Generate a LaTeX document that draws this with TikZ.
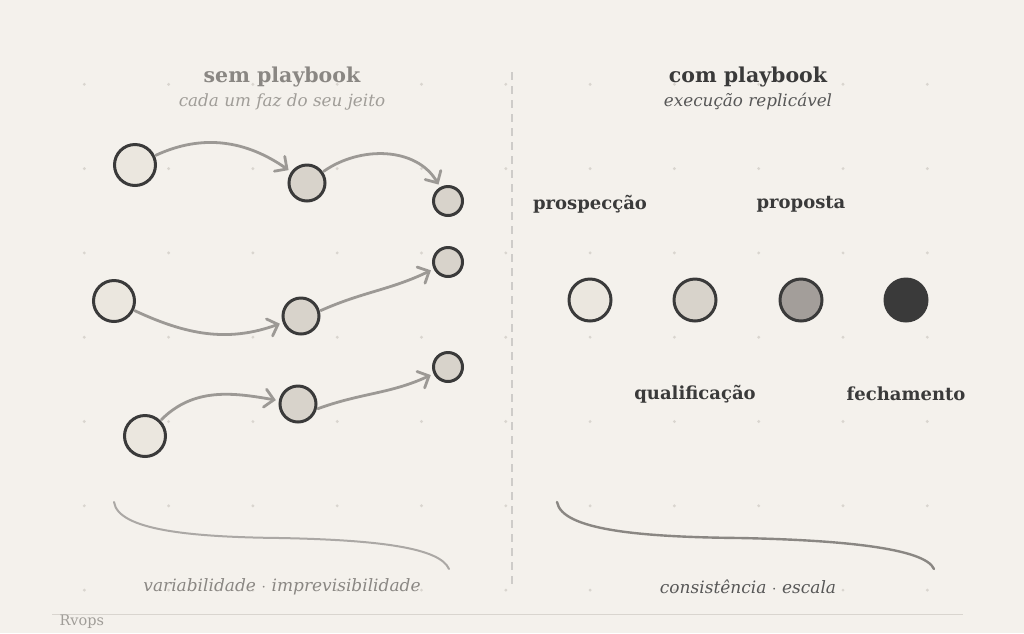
\documentclass[tikz,border=0pt]{standalone}
\usepackage{fontspec}
\setmainfont{DejaVu Serif}
\usetikzlibrary{arrows.meta}
\definecolor{paper}{HTML}{F4F1EC}
\definecolor{griddot}{HTML}{D9D5CF}
\definecolor{ink}{HTML}{3A3A3A}
\definecolor{flowgray}{HTML}{9C9995}
\definecolor{stepa}{HTML}{EBE7DF}
\definecolor{stepb}{HTML}{D8D3CB}
\definecolor{stepc}{HTML}{A39E9A}
\definecolor{headgray}{HTML}{8A8783}
\definecolor{subgray}{HTML}{A09D98}
\tikzset{
  stage/.style={circle,draw=ink,line width=3pt,inner sep=0pt},
  big/.style={stage,fill=stepa,minimum size=41pt},
  mid/.style={stage,fill=stepb,minimum size=36pt},
  small/.style={stage,fill=stepb,minimum size=29pt},
  flow/.style={draw=flowgray,line width=2.8pt,line cap=round,
    -{Straight Barb[length=9pt,width=18pt,line cap=round]},shorten >=3pt,shorten <=1pt},
  stagename/.style={font=\bfseries\fontsize{18}{22}\selectfont,text=ink},
  headline/.style={font=\bfseries\fontsize{20.5}{24}\selectfont},
  subline/.style={font=\itshape\fontsize{16.8}{20}\selectfont},
  note/.style={font=\itshape\fontsize{17}{20}\selectfont}
}
\begin{document}
\begin{tikzpicture}[x=1pt,y=-1pt]
  \fill[paper] (0,0) rectangle (1024,633);
  \useasboundingbox (0,0) rectangle (1024,633);

  % dot grid
  \foreach \i in {1,...,11}
    \foreach \j in {1,...,7}
      \fill[griddot] (84.3*\i,84.3*\j) circle (1.6pt);

  % divider
  \draw[griddot!80!black!60,line width=1.2pt,dash pattern=on 8pt off 6pt] (512,72) -- (512,585);

  % left side
  \node[headline,text=headgray] (semtitle) at (282,77) {sem playbook};
  \node[subline,text=subgray] (semsub) at (282,102) {cada um faz do seu jeito};

  \node[big] (a1) at (135,165) {};
  \node[mid] (a2) at (307,183) {};
  \node[small] (a3) at (448,201) {};
  \node[big] (b1) at (114,301) {};
  \node[mid] (b2) at (301,316) {};
  \node[small] (b3) at (448,262) {};
  \node[big] (c1) at (145,436) {};
  \node[mid] (c2) at (298,404) {};
  \node[small] (c3) at (448,367) {};

  \draw[flow] (a1) to[out=25,in=145] (a2);
  \draw[flow] (a2) to[out=35,in=120] (a3);
  \draw[flow] (b1) to[out=-25,in=200] (b2);
  \draw[flow] (b2.15) to[out=24,in=206] (b3);
  \draw[flow] (c1) to[out=45,in=170] (c2);
  \draw[flow] (c2.-15) to[out=20,in=205] (c3);

  \draw[flowgray!85,line width=2pt,line cap=round] (114,502) .. controls (118,530) and (190,537) .. (280,538)
    .. controls (380,540) and (440,548) .. (449,569);
  \node[note,text=headgray] (semnote) at (282,587) {variabilidade $\cdot$ imprevisibilidade};

  % right side
  \node[headline,text=ink] (comtitle) at (748,77) {com playbook};
  \node[subline,text=ink!85] (comsub) at (748,102) {execução replicável};

  \node[stage,fill=stepa,minimum size=42pt] (p1) at (590,300) {};
  \node[stage,fill=stepb,minimum size=42pt] (p2) at (695,300) {};
  \node[stage,fill=stepc,minimum size=42pt] (p3) at (801,300) {};
  \node[stage,fill=ink,minimum size=42pt] (p4) at (906,300) {};

  \node[stagename] (n1) at (590,204) {prospecção};
  \node[stagename] (n2) at (695,394) {qualificação};
  \node[stagename] (n3) at (801,204) {proposta};
  \node[stagename] (n4) at (906,394) {fechamento};

  \draw[headgray,line width=2.4pt,line cap=round] (557,502) .. controls (562,530) and (640,537) .. (740,538)
    .. controls (840,540) and (925,548) .. (934,569);
  \node[note,text=ink!85] (comnote) at (748,587) {consistência $\cdot$ escala};

  % footer
  \draw[griddot,line width=1pt] (52,614) -- (963,614);
  \node[anchor=west,font=\fontsize{14.5}{17}\selectfont,text=subgray] (brand) at (56,622) {Rvops};
\end{tikzpicture}
\end{document}
